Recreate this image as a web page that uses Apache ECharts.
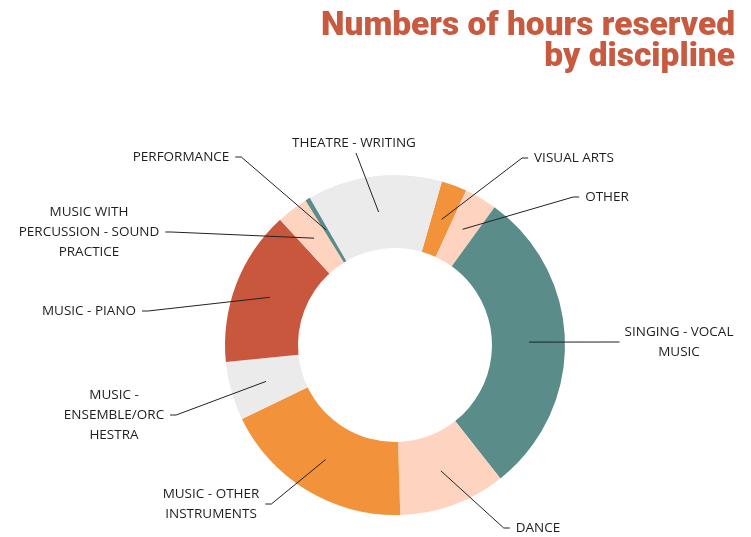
<!DOCTYPE html>
<html>
<head>
<meta charset="utf-8">
<title>Numbers of hours reserved by discipline</title>
<script src="https://cdn.jsdelivr.net/npm/echarts@6/dist/echarts.min.js"></script>
<style>
html, body { margin: 0; padding: 0; background: #fff; }
#chart { width: 751px; height: 537px; }
</style>
</head>
<body>
<div id="chart"></div>
<script>
// slices, clockwise starting from VISUAL ARTS
var disciplines = [
    'VISUAL ARTS',
    'OTHER',
    'SINGING - VOCAL\nMUSIC',
    'DANCE',
    'MUSIC - OTHER\nINSTRUMENTS',
    'MUSIC -\nENSEMBLE/ORC\nHESTRA',
    'MUSIC - PIANO',
    'MUSIC WITH\nPERCUSSION - SOUND\nPRACTICE',
    'PERFORMANCE',
    'THEATRE - WRITING'
];
var hours = [243, 308, 2940, 1015, 1833, 556, 1478, 300, 47, 1279];
var sliceColors = ['#f2923a', '#fed4c0', '#5a8c8a', '#fed4c0', '#f2923a',
                   '#ebebeb', '#c8573e', '#fed4c0', '#5a8c8a', '#ebebeb'];

// label block centre + side the text sits relative to its leader line
var labelSpots = [
    [574, 158, 'right'],
    [607, 197, 'right'],
    [679, 342, 'flat'],
    [538, 528, 'right'],
    [211, 504, 'left'],
    [114, 415, 'left'],
    [89, 311, 'left'],
    [89, 232, 'left'],
    [181, 157, 'left'],
    [354, 143, 'top']
];

var chart = echarts.init(document.getElementById('chart'));

var pieData = disciplines.map(function (name, i) {
    return { name: name, value: hours[i], itemStyle: { color: sliceColors[i] } };
});

chart.setOption({
    animation: false,
    title: {
        text: 'Numbers of hours reserved\nby discipline',
        left: 'right',
        top: 0,
        padding: [11, 16, 0, 0],
        textStyle: {
            color: '#c85a40',
            fontFamily: 'Roboto, "Liberation Sans", sans-serif',
            fontWeight: 900,
            fontSize: 33.5,
            lineHeight: 31
        }
    },
    series: [{
        // the ring itself
        type: 'pie',
        center: [395, 345],
        radius: [97, 170],
        startAngle: 74,
        silent: true,
        z: 2,
        label: { show: false },
        labelLine: { show: false },
        data: pieData
    }, {
        // invisible copy only used to anchor the leader lines inside the ring
        type: 'pie',
        center: [395, 345],
        radius: [0, 134],
        startAngle: 74,
        silent: true,
        z: 5,
        avoidLabelOverlap: false,
        itemStyle: { color: 'rgba(0,0,0,0)', borderWidth: 0 },
        label: {
            show: true,
            position: 'outside',
            color: '#1e1e1e',
            fontFamily: '"Open Sans", sans-serif',
            fontSize: 13.5,
            lineHeight: 20,
            align: 'center'
        },
        labelLine: {
            show: true,
            length: 10,
            length2: 10,
            lineStyle: { color: '#222', width: 1 }
        },
        labelLayout: function (p) {
            var spot = labelSpots[p.dataIndex];
            var w = p.labelRect.width, h = p.labelRect.height;
            var start = p.labelLinePoints ? p.labelLinePoints[0] : [395, 345];
            var pts, ex;
            if (spot[2] === 'top') {
                pts = [start, [spot[0] + 2, spot[1] + h / 2]];
            } else if (spot[2] === 'flat') {
                pts = [start, [spot[0] - w / 2 - 5, spot[1]]];
            } else if (spot[2] === 'right') {
                ex = spot[0] - w / 2 - 6;
                pts = [start, [ex - 6, spot[1]], [ex, spot[1]]];
            } else {
                ex = spot[0] + w / 2 + 6;
                pts = [start, [ex + 6, spot[1]], [ex, spot[1]]];
            }
            return {
                x: spot[0],
                y: spot[1],
                align: 'center',
                verticalAlign: 'middle',
                labelLinePoints: pts
            };
        },
        data: pieData.map(function (d) { return { name: d.name, value: d.value }; })
    }]
});
</script>
</body>
</html>
